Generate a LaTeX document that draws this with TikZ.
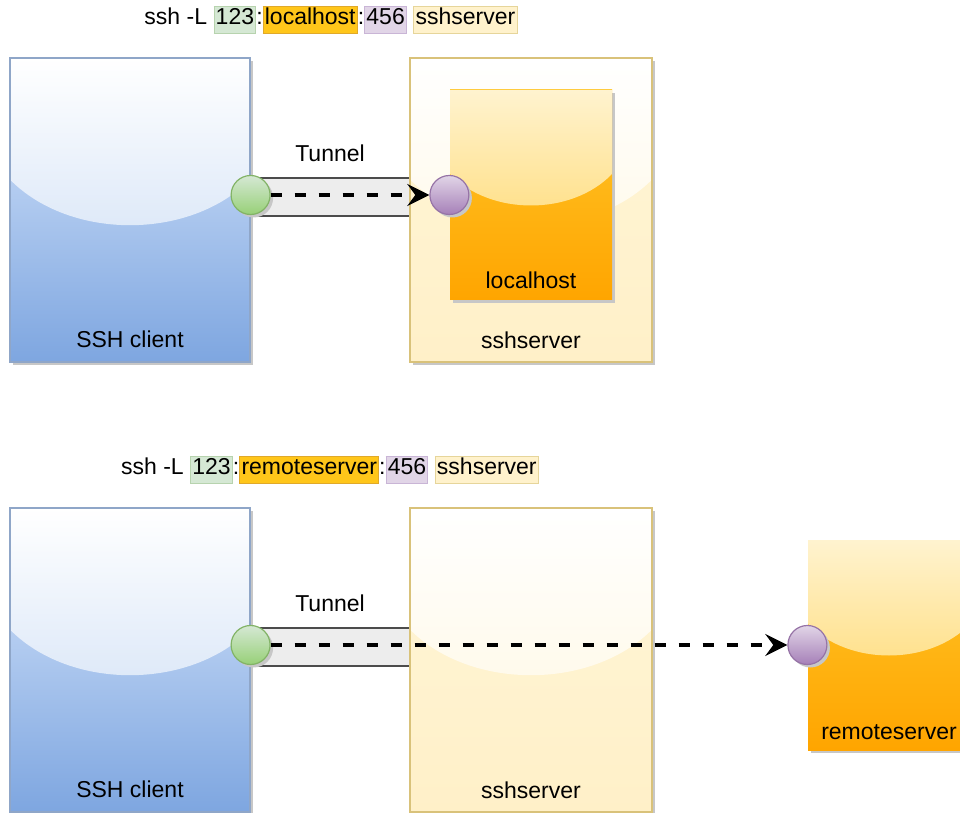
\documentclass[tikz,border=0pt]{standalone}
\usepackage{fontspec}
\setmainfont{Liberation Sans}
\usepackage{tikz}
\usetikzlibrary{positioning, calc, shadows, arrows.meta}

\definecolor{clientfill}{HTML}{DAE8FC}
\definecolor{clientgrad}{HTML}{7EA6E0}
\definecolor{clientline}{HTML}{8FA6C8}
\definecolor{clientgloss}{HTML}{C4D8F3}
\definecolor{serverfill}{HTML}{FFF6D8}
\definecolor{servergrad}{HTML}{FFF0C8}
\definecolor{serverline}{HTML}{D9C27A}
\definecolor{servergloss}{HTML}{FFF6DC}
\definecolor{hostfill}{HTML}{FFC62A}
\definecolor{hostgrad}{HTML}{FFA500}
\definecolor{hosttop}{HTML}{FFF3CF}
\definecolor{hostgloss}{HTML}{FFD35A}
\definecolor{portfill}{HTML}{D5E8D4}
\definecolor{portgrad}{HTML}{97D077}
\definecolor{portline}{HTML}{82B366}
\definecolor{fwdfill}{HTML}{E1D5E7}
\definecolor{fwdgrad}{HTML}{A680B8}
\definecolor{fwdline}{HTML}{9673A6}
\definecolor{hlport}{HTML}{D5E8D4}
\definecolor{hlportline}{HTML}{B7D3AE}
\definecolor{hlhost}{HTML}{FFC61A}
\definecolor{hlhostline}{HTML}{E0A92A}
\definecolor{hlfwd}{HTML}{E1D5E7}
\definecolor{hlfwdline}{HTML}{C9B5D6}
\definecolor{hlserver}{HTML}{FFF2CC}
\definecolor{hlserverline}{HTML}{E6D59A}
\setlength{\fboxsep}{0.6pt}
\setlength{\fboxrule}{0.5pt}

\begin{document}
\begin{tikzpicture}[x=0.5pt, y=0.5pt, >={Stealth[length=11pt, width=11pt, inset=4pt]}, semithick,
  font=\fontsize{11.5}{12}\selectfont,
  shadowed/.style={drop shadow={shadow xshift=1.5pt, shadow yshift=-1.5pt, fill=black!22, opacity=1}},
  gloss/.style 2 args={path picture={
    \shade[top color=#1, bottom color=#2]
      let \p1=(path picture bounding box.north west),
          \p2=(path picture bounding box.south east),
          \n1={\x2-\x1}, \n2={\y1-\y2} in
      (\x1,\y1) -- (\x1,\y1-0.4*\n2)
      .. controls (\x1+0.25*\n1,\y1-0.6*\n2) and (\x2-0.25*\n1,\y1-0.6*\n2) .. (\x2,\y1-0.4*\n2)
      -- (\x2,\y1) -- cycle;}},
  clientbox/.style={rectangle, inner sep=0pt, minimum width=120pt, minimum height=152pt,
    draw=clientline, top color=clientfill, bottom color=clientgrad, gloss={white}{clientgloss}, shadowed},
  serverbox/.style={rectangle, inner sep=0pt, minimum width=121pt, minimum height=152pt,
    draw=serverline, top color=serverfill, bottom color=servergrad, gloss={white}{servergloss}, shadowed},
  hostbox/.style={rectangle, inner sep=0pt, minimum width=81pt, minimum height=105pt,
    top color=hostfill, bottom color=hostgrad, gloss={hosttop}{hostgloss}, shadowed},
  port/.style={circle, inner sep=0pt, minimum size=19.5pt, draw=portline, top color=portfill, bottom color=portgrad, shadowed},
  fwd/.style={circle, inner sep=0pt, minimum size=19.5pt, draw=fwdline, top color=fwdfill, bottom color=fwdgrad, shadowed},
  pipe/.style={rectangle, inner sep=0pt, minimum width=80pt, minimum height=19pt, draw=black!70, fill=black!7},
  flow/.style={->, line width=1.75pt, dash pattern=on 5.5pt off 6.5pt},
  boxlabel/.style={anchor=base, inner sep=0pt}]

  \useasboundingbox (0,0) rectangle (960,-813);
  \clip (0,0) rectangle (960,-813);

  %% local forwarding to the server itself
  \node[pipe] (tunnel1) at (330,-197) {};
  \node[clientbox] (client1) at (130,-210) {};
  \node[serverbox] (server1) at (531,-210) {};
  \node[hostbox] (local1) at (531,-195) {};
  \node[port] (p1) at ([yshift=7.5pt]client1.east) {};
  \node[fwd] (q1) at (local1.west) {};

  \node[boxlabel] (client1lbl) at ([yshift=7.5pt]client1.south) {SSH client};
  \node[boxlabel] (server1lbl) at ([yshift=7pt]server1.south) {sshserver};
  \node[boxlabel] (local1lbl) at ([yshift=6pt]local1.south) {localhost};
  \node[boxlabel] (tunnel1lbl) at ([yshift=8pt]tunnel1.north) {Tunnel};
  \node (cmd1) at (331,-20) {ssh -L \fcolorbox{hlportline}{hlport}{\strut 123}:\fcolorbox{hlhostline}{hlhost}{\strut localhost}:\fcolorbox{hlfwdline}{hlfwd}{\strut 456} \fcolorbox{hlserverline}{hlserver}{\strut sshserver}};

  \path[flow] (p1) edge (q1);

  %% local forwarding to a remote server
  \node[pipe] (tunnel2) at (330,-647) {};
  \node[clientbox] (client2) at (130,-660) {};
  \node[serverbox] (server2) at (531,-660) {};
  \node[hostbox] (remote) at (889,-645) {};
  \node[port] (p2) at ([yshift=7.5pt]client2.east) {};
  \node[fwd] (q2) at (remote.west) {};

  \node[boxlabel] (client2lbl) at ([yshift=7.5pt]client2.south) {SSH client};
  \node[boxlabel] (server2lbl) at ([yshift=7pt]server2.south) {sshserver};
  \node[boxlabel] (remotelbl) at ([yshift=5.5pt]remote.south) {remoteserver};
  \node[boxlabel] (tunnel2lbl) at ([yshift=8pt]tunnel2.north) {Tunnel};
  \node (cmd2) at (330,-470) {ssh -L \fcolorbox{hlportline}{hlport}{\strut 123}:\fcolorbox{hlhostline}{hlhost}{\strut remoteserver}:\fcolorbox{hlfwdline}{hlfwd}{\strut 456} \fcolorbox{hlserverline}{hlserver}{\strut sshserver}};

  \path[flow] (p2) edge (q2);
\end{tikzpicture}
\end{document}
